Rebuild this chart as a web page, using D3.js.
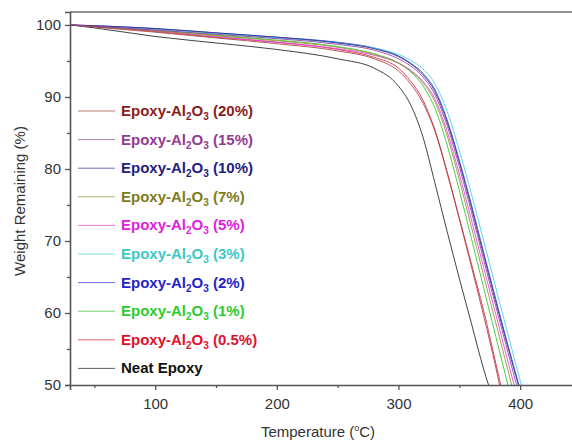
<!DOCTYPE html>
<html>
<head>
<meta charset="utf-8">
<script src="https://cdn.jsdelivr.net/npm/d3@7"></script>
<style>
  html, body { margin: 0; padding: 0; background: #fff; }
  svg { display: block; }
  text { font-family: "Liberation Sans", Arial, sans-serif; }
</style>
</head>
<body>
<svg id="chart" width="572" height="440"></svg>
<script>
// ---- data ----
const seriesNames = ["Epoxy-Al2O3 (20%)", "Epoxy-Al2O3 (15%)", "Epoxy-Al2O3 (10%)", "Epoxy-Al2O3 (7%)",
  "Epoxy-Al2O3 (5%)", "Epoxy-Al2O3 (3%)", "Epoxy-Al2O3 (2%)", "Epoxy-Al2O3 (1%)", "Epoxy-Al2O3 (0.5%)", "Neat Epoxy"];
const legendLabels = ["(20%)", "(15%)", "(10%)", "(7%)", "(5%)", "(3%)", "(2%)", "(1%)", "(0.5%)", null];
const textColors = ["#8b1c1c", "#933a93", "#1f2080", "#7c7c1c", "#e020e0", "#3cc8c8", "#2424c8", "#2ccc2c", "#e0102c", "#111111"];
const lineColors = ["#a04040", "#9040a0", "#303090", "#909030", "#e040e0", "#40d0e0", "#3030d0", "#30c030", "#e02040", "#222222"];

const tempAll = [30, 50, 100, 150, 200, 250, 280, 300, 310, 320, 330, 340, 350, 360, 370, 380, 390];

const w20  = [100, 99.7, 99.0, 98.2, 97.4, 96.4, 95.3, 93.6, 91.8, 89.2, 85.2, 79.4, 73.0, 66.4, 59.6, 52.4];
const t20end = 383;
const w15  = [100, 99.8, 99.3, 98.7, 98.1, 97.3, 96.5, 95.3, 94.3, 92.8, 90.3, 86.0, 80.3, 74.0, 67.4, 60.9, 54.5];
const t15end = 397;
const w10  = [100, 99.9, 99.5, 98.9, 98.3, 97.5, 96.7, 95.6, 94.6, 93.1, 90.7, 86.5, 80.9, 74.6, 68.0, 61.5, 55.2];
const t10end = 398.5;
const w7   = [100, 99.8, 99.2, 98.5, 97.8, 96.9, 95.9, 94.7, 93.6, 92.0, 89.3, 84.6, 78.5, 71.9, 65.2, 58.6, 52.0];
const t7end = 393;
const w5   = [100, 99.8, 99.2, 98.4, 97.6, 96.7, 95.8, 94.7, 93.7, 92.2, 89.7, 85.2, 79.3, 72.9, 66.3, 59.8, 53.2];
const t5end = 395;
const w3   = [100, 99.8, 99.4, 98.8, 98.2, 97.5, 96.8, 95.9, 95.1, 93.9, 91.8, 88.0, 82.6, 76.5, 70.0, 63.5, 57.0];
const t3end = 401;
const w2   = [100, 99.9, 99.5, 98.9, 98.3, 97.6, 96.8, 95.7, 94.7, 93.3, 91.0, 86.8, 81.2, 75.0, 68.4, 61.9, 55.5];
const t2end = 399;
const w1   = [100, 99.8, 99.3, 98.6, 97.9, 97.0, 96.0, 94.7, 93.5, 91.6, 88.4, 83.3, 77.0, 70.3, 63.5, 56.7, 50.0];
const t1end = 390;
const w05  = [100, 99.8, 99.1, 98.3, 97.6, 96.6, 95.5, 94.0, 92.2, 89.6, 85.4, 79.6, 73.2, 66.8, 60.3, 53.0];
const t05end = 384;
const wNeat = [100, 99.6, 98.4, 97.5, 96.6, 95.3, 94.0, 91.5, 88.9, 84.5, 78.0, 71.3, 64.8, 58.5, 52.2];
const tNeatEnd = 374;

const seriesW = [w20, w15, w10, w7, w5, w3, w2, w1, w05, wNeat];
const seriesEnd = [t20end, t15end, t10end, t7end, t5end, t3end, t2end, t1end, t05end, tNeatEnd];

const xMajorTicks = [100, 200, 300, 400];
const xMinorTicks = [50, 150, 250, 350, 450];
const yMajorTicks = [50, 60, 70, 80, 90, 100];
const yMinorTicks = [55, 65, 75, 85, 95];

// ---- layout ----
const svg = d3.select("#chart");
const x = d3.scaleLinear().domain([30, 450]).range([70, 581]);
const y = d3.scaleLinear().domain([50, 101.8]).range([385, 12]);

const gPlot = svg.append("g");
svg.append("defs").append("clipPath").attr("id", "clip")
  .append("rect").attr("x", 70).attr("y", 12).attr("width", 511).attr("height", 373);

// frame (top & right)
svg.append("line").attr("x1", 70).attr("x2", 581).attr("y1", 12).attr("y2", 12)
  .attr("stroke", "#222").attr("stroke-width", 1.2);
svg.append("line").attr("x1", 581).attr("x2", 581).attr("y1", 12).attr("y2", 385)
  .attr("stroke", "#222").attr("stroke-width", 1.2);

// curves
const line = d3.line().x(d => x(d[0])).y(d => y(d[1])).curve(d3.curveMonotoneX);
const curves = gPlot.append("g").attr("clip-path", "url(#clip)");
for (let i = seriesW.length - 1; i >= 0; i--) {
  const pts = seriesW[i].map((w, k) => [tempAll[k], w]);
  pts.push([seriesEnd[i], 50]);
  curves.append("path").datum(pts)
    .attr("d", line)
    .attr("fill", "none")
    .attr("stroke", lineColors[i])
    .attr("stroke-width", 1)
    .attr("opacity", 0.85);
}

// axes
const axisColor = "#555";
const xAxis = svg.append("g").attr("transform", "translate(0,385)")
  .call(d3.axisBottom(x).tickValues(xMajorTicks).tickSize(5).tickPadding(8).tickFormat(d3.format("d")));
const xMinor = svg.append("g").attr("transform", "translate(0,385)")
  .call(d3.axisBottom(x).tickValues(xMinorTicks).tickSize(3).tickFormat(""));
xMinor.select(".domain").remove();
const yAxis = svg.append("g").attr("transform", "translate(70,0)")
  .call(d3.axisLeft(y).tickValues(yMajorTicks).tickSize(5).tickPadding(4).tickFormat(d3.format("d")));
const yMinor = svg.append("g").attr("transform", "translate(70,0)")
  .call(d3.axisLeft(y).tickValues(yMinorTicks).tickSize(3).tickFormat(""));
yMinor.select(".domain").remove();

svg.selectAll(".domain").attr("stroke", axisColor).attr("stroke-width", 1.6);
svg.selectAll(".tick line").attr("stroke", axisColor).attr("stroke-width", 1.3);
svg.selectAll(".tick text").attr("font-size", 15).attr("fill", "#333")
  .attr("font-family", "'Liberation Sans', Arial, sans-serif");

// axis titles
const xt = svg.append("text").attr("x", 318).attr("y", 437).attr("text-anchor", "middle")
  .attr("font-size", 15).attr("fill", "#333");
xt.append("tspan").text("Temperature (");
xt.append("tspan").attr("font-size", 9).attr("dy", -6).text("o");
xt.append("tspan").attr("dy", 6).text("C)");

svg.append("text").attr("transform", "translate(25,201) rotate(-90)")
  .attr("text-anchor", "middle").attr("font-size", 15).attr("fill", "#333")
  .text("Weight Remaining (%)");

// legend
const legTop = 111, legStep = 28.6;
seriesNames.forEach((name, i) => {
  const cy = legTop + i * legStep;
  svg.append("line").attr("x1", 78).attr("x2", 115).attr("y1", cy).attr("y2", cy)
    .attr("stroke", lineColors[i]).attr("stroke-width", 1).attr("opacity", 0.7);
  const t = svg.append("text").attr("x", 121).attr("y", cy + 5)
    .attr("font-size", 15).attr("font-weight", "bold").attr("fill", textColors[i]);
  if (legendLabels[i] === null) {
    t.text(name);
  } else {
    t.append("tspan").text("Epoxy-Al");
    t.append("tspan").attr("font-size", 10).attr("dy", 4).text("2");
    t.append("tspan").attr("dy", -4).text("O");
    t.append("tspan").attr("font-size", 10).attr("dy", 4).text("3");
    t.append("tspan").attr("dy", -4).text(" " + legendLabels[i]);
  }
});
</script>
</body>
</html>
